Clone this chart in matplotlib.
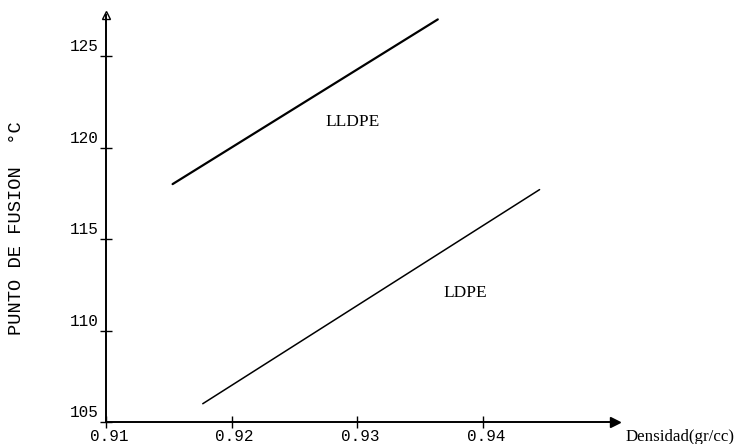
import matplotlib
matplotlib.use("Agg")
import matplotlib.pyplot as plt
import matplotlib.transforms as mtransforms

# Data
lldpe_density = [0.9153, 0.9364]
lldpe_melt = [118.0, 127.0]
ldpe_density = [0.9177, 0.9445]
ldpe_melt = [106.0, 117.7]
x_ticks = [0.91, 0.92, 0.93, 0.94]
x_tick_labels = ["0.91", "0.92", "0.93", "0.94"]
y_ticks = [105, 110, 115, 120, 125]
y_tick_labels = ["105", "110", "115", "120", "125"]

mono = "Liberation Mono"
serif = "Liberation Serif"

fig = plt.figure(figsize=(7.36, 4.44), dpi=100)
ax = fig.add_axes([0.144, 0.0495, 0.6916, 0.9167])
ax.set_xlim(0.91, 0.9505)
ax.set_ylim(105, 127.24)

for s in ["top", "right"]:
    ax.spines[s].set_visible(False)
for s in ["left", "bottom"]:
    ax.spines[s].set_linewidth(1.4)

ax.plot(lldpe_density, lldpe_melt, color="black", lw=1.6, solid_capstyle="round")
ax.plot(ldpe_density, ldpe_melt, color="black", lw=1.1, solid_capstyle="round")

ax.set_xticks(x_ticks)
ax.set_xticklabels(x_tick_labels, fontfamily=mono, fontsize=11.5)
ax.set_yticks(y_ticks)
ax.set_yticklabels(y_tick_labels, fontfamily=mono, fontsize=11.5, va="bottom")
ax.tick_params(axis="both", direction="inout", length=8, width=1.0, pad=1)
shift = mtransforms.ScaledTranslation(3 / 100, 0, fig.dpi_scale_trans)
for lbl in ax.get_xticklabels():
    lbl.set_transform(lbl.get_transform() + shift)
shift_y = mtransforms.ScaledTranslation(0, 2 / 100, fig.dpi_scale_trans)
for lbl in ax.get_yticklabels():
    lbl.set_transform(lbl.get_transform() + shift_y)

# axis arrows
ax.plot(1, 0, marker=">", color="black", markersize=7, transform=ax.transAxes, clip_on=False)
ax.plot(0, 1, marker="^", markerfacecolor="white", markeredgecolor="black", markersize=6,
        transform=ax.transAxes, clip_on=False)

ax.text(0.9296, 121.4, "LLDPE", fontfamily=serif, fontsize=12.5, ha="center", va="center")
ax.text(0.9386, 112.05, "LDPE", fontfamily=serif, fontsize=12.5, ha="center", va="center")

fig.text(680 / 736, 1 - 437 / 444, "Densidad(gr/cc)", fontfamily=serif, fontsize=12.2,
         ha="center", va="center")
fig.text(17 / 736, 1 - 228 / 444, "PUNTO DE FUSION  \u00b0C", fontfamily=mono, fontsize=13.5,
         rotation=90, ha="center", va="center")

fig.savefig("out.png", dpi=100)
